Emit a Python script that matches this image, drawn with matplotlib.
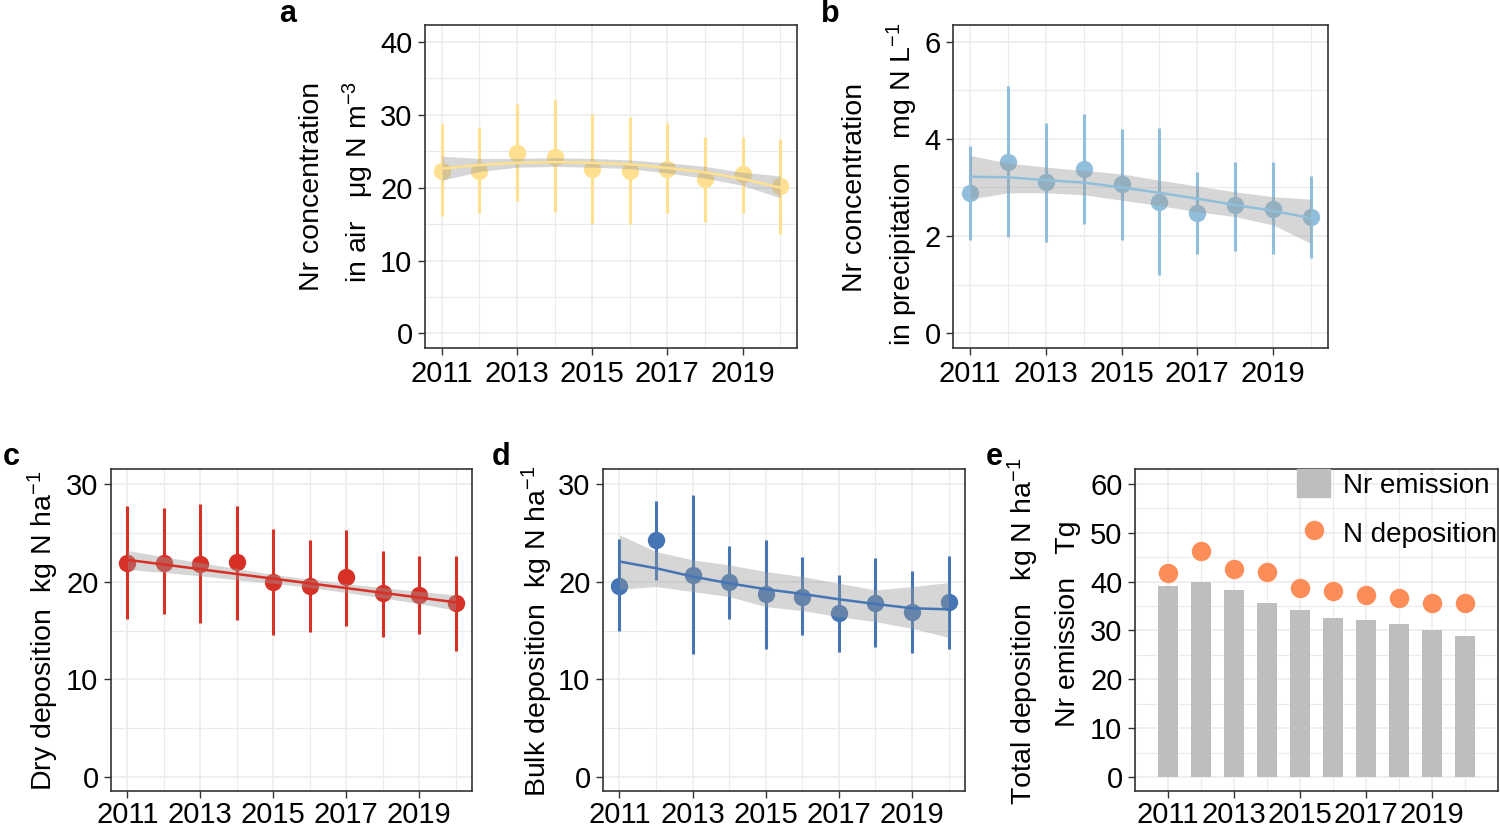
import matplotlib
matplotlib.use("Agg")
import matplotlib.pyplot as plt
from matplotlib.ticker import MultipleLocator
from matplotlib.patches import Patch
from matplotlib.lines import Line2D

plt.rcParams['font.family'] = ['Liberation Sans', 'DejaVu Sans']
plt.rcParams['mathtext.fontset'] = 'custom'
plt.rcParams['mathtext.rm'] = 'Liberation Sans'
plt.rcParams['mathtext.it'] = 'Liberation Sans:italic'
plt.rcParams['mathtext.bf'] = 'Liberation Sans:bold'

years = [2011, 2012, 2013, 2014, 2015, 2016, 2017, 2018, 2019, 2020]

# a: Nr concentration in air
air_mean = [22.3, 22.3, 24.8, 24.2, 22.5, 22.3, 22.6, 21.2, 21.9, 20.2]
air_hi = [28.7, 28.3, 31.4, 32.0, 30.1, 29.7, 28.9, 26.9, 26.9, 26.7]
air_lo = [16.1, 16.5, 18.1, 16.6, 15.0, 15.0, 16.5, 15.3, 16.5, 13.6]
air_fit = [22.6, 23.1, 23.4, 23.5, 23.4, 23.2, 22.7, 22.1, 21.2, 20.0]
air_fit_hi = [24.3, 24.0, 24.0, 24.1, 24.0, 23.8, 23.4, 22.9, 22.1, 21.6]
air_fit_lo = [21.0, 22.2, 22.8, 22.9, 22.8, 22.6, 22.0, 21.3, 20.3, 18.6]

# b: Nr concentration in precipitation
pre_mean = [2.89, 3.52, 3.12, 3.38, 3.07, 2.71, 2.47, 2.63, 2.56, 2.39]
pre_hi = [3.85, 5.08, 4.33, 4.51, 4.20, 4.23, 3.31, 3.52, 3.52, 3.24]
pre_lo = [1.93, 1.99, 1.87, 2.24, 1.91, 1.20, 1.63, 1.70, 1.63, 1.54]
pre_fit = [3.22, 3.21, 3.15, 3.10, 3.00, 2.89, 2.77, 2.64, 2.52, 2.37]
pre_fit_hi = [3.66, 3.50, 3.42, 3.35, 3.28, 3.15, 3.03, 2.91, 2.81, 2.76]
pre_fit_lo = [2.76, 2.89, 2.89, 2.85, 2.74, 2.63, 2.50, 2.40, 2.23, 1.85]

# c: dry deposition
dry_mean = [21.96, 21.96, 21.83, 22.03, 20.01, 19.57, 20.53, 18.82, 18.65, 17.79]
dry_hi = [27.78, 27.54, 27.95, 27.78, 25.38, 24.29, 25.25, 23.16, 22.68, 22.68]
dry_lo = [16.18, 16.66, 15.81, 16.08, 14.54, 14.81, 15.50, 14.37, 14.64, 12.93]
dry_fit = [22.24, 21.76, 21.28, 20.79, 20.31, 19.83, 19.35, 18.86, 18.38, 17.89]
dry_fit_hi = [23.20, 22.55, 21.95, 21.35, 20.75, 20.25, 19.80, 19.40, 19.00, 18.65]
dry_fit_lo = [21.25, 20.95, 20.60, 20.20, 19.85, 19.40, 18.90, 18.35, 17.75, 17.10]

# d: bulk deposition
bulk_mean = [19.57, 24.29, 20.70, 20.01, 18.75, 18.41, 16.76, 17.86, 16.93, 17.89]
bulk_hi = [24.39, 28.22, 28.91, 23.67, 24.22, 22.51, 20.70, 22.41, 21.11, 22.68]
bulk_lo = [14.95, 20.18, 12.56, 16.18, 13.10, 14.54, 12.83, 13.34, 12.73, 13.10]
bulk_fit = [22.07, 21.38, 20.53, 19.84, 19.23, 18.75, 18.20, 17.72, 17.28, 17.17]
bulk_fit_hi = [24.80, 23.09, 22.24, 21.72, 21.04, 20.53, 19.84, 19.16, 19.50, 19.91]
bulk_fit_lo = [19.23, 19.50, 18.99, 18.47, 17.45, 17.04, 16.42, 15.91, 15.22, 14.30]

# e: emission and total deposition
emission = [39.1, 40.0, 38.3, 35.7, 34.1, 32.6, 32.1, 31.3, 30.1, 28.9]
total_dep = [41.7, 46.2, 42.6, 42.0, 38.7, 38.0, 37.2, 36.6, 35.6, 35.7]

W, H = 1500, 827
fig = plt.figure(figsize=(15, 8.27), dpi=100)


def px_axes(x0, y0, x1, y1):
    return fig.add_axes([x0 / W, 1 - y1 / H, (x1 - x0) / W, (y1 - y0) / H])


def style(ax, major, minor, ylim, xlim, xpad=4):
    ax.set_xlim(*xlim)
    ax.set_ylim(*ylim)
    ax.xaxis.set_major_locator(MultipleLocator(2))
    ax.xaxis.set_minor_locator(MultipleLocator(1))
    ax.yaxis.set_major_locator(MultipleLocator(major))
    ax.yaxis.set_minor_locator(MultipleLocator(minor))
    ax.set_xticks([2011, 2013, 2015, 2017, 2019])
    ax.grid(which='major', color='#EBEBEB', lw=1.1, zorder=0)
    ax.grid(which='minor', color='#EBEBEB', lw=0.8, zorder=0)
    ax.set_axisbelow(True)
    ax.tick_params(which='major', direction='out', length=5, width=1,
                   color='#333333', labelsize=21, pad=4, labelcolor='black')
    ax.tick_params(axis='x', which='major', pad=xpad)
    ax.tick_params(which='minor', length=0)
    for s in ax.spines.values():
        s.set_color('#333333')
        s.set_linewidth(1.2)


def trend(ax, mean, lo, hi, fit, fit_lo, fit_hi, color, ms):
    ax.vlines(years, lo, hi, color=color, lw=2.2, zorder=2)
    ax.plot(years, mean, 'o', color=color, ms=ms, mec='none', zorder=3)
    ax.fill_between(years, fit_lo, fit_hi, color='#999999', alpha=0.4,
                    lw=0, zorder=4)
    ax.plot(years, fit, color=color, lw=1.8, zorder=5)


xl = (2010.55, 2020.45)

ax_a = px_axes(425, 25, 797, 348)
trend(ax_a, air_mean, air_lo, air_hi, air_fit, air_fit_lo, air_fit_hi, '#FEE090', 12.5)
style(ax_a, 10, 5, (-2.0, 42.3), xl)

ax_b = px_axes(953, 25, 1328, 348)
trend(ax_b, pre_mean, pre_lo, pre_hi, pre_fit, pre_fit_lo, pre_fit_hi, '#91BFDB', 12.5)
style(ax_b, 2, 1, (-0.3, 6.34), xl)

ax_c = px_axes(111, 469, 472, 791)
trend(ax_c, dry_mean, dry_lo, dry_hi, dry_fit, dry_fit_lo, dry_fit_hi, '#D73027', 12.5)
style(ax_c, 10, 5, (-1.43, 31.54), xl, xpad=2)

ax_d = px_axes(603, 469, 965, 791)
trend(ax_d, bulk_mean, bulk_lo, bulk_hi, bulk_fit, bulk_fit_lo, bulk_fit_hi, '#4575B4', 12.5)
style(ax_d, 10, 5, (-1.43, 31.54), xl, xpad=2)

ax_e = px_axes(1135, 469, 1498, 791)
ax_e.bar(years, emission, width=0.58, color='#BEBEBE', zorder=2)
ax_e.plot(years, total_dep, 'o', color='#FC8D59', ms=14, mec='none', zorder=3)
style(ax_e, 10, 5, (-2.87, 63.07), (2010.0, 2021.0), xpad=2)
handles = [Patch(color='#BEBEBE'),
           Line2D([], [], marker='o', ls='', color='#FC8D59', ms=14, mec='none')]
ax_e.legend(handles, ['Nr emission', 'N deposition'], loc='upper left',
            bbox_to_anchor=((1297 - 1135) / 363, 1.0), frameon=False,
            fontsize=20, borderpad=0.0, handlelength=1.2, handleheight=1.2,
            handletextpad=0.45, labelspacing=0.7, borderaxespad=0.0)


def ylab(x, y, s):
    fig.text(x / W, 1 - y / H, s, rotation=90, ha='center', va='center',
             fontsize=20.5)


ylab(312, 186, 'Nr concentration')
ylab(358, 182, 'in air   \u03bcg N m$^{-3}$')
ylab(855, 187, 'Nr concentration')
ylab(902, 184, 'in precipitation   mg N L$^{-1}$')
ylab(43, 631, 'Dry deposition  kg N ha$^{-1}$')
ylab(537, 631, 'Bulk deposition  kg N ha$^{-1}$')
ylab(1023, 631, 'Total deposition   kg N ha$^{-1}$')
ylab(1068, 624, 'Nr emission   Tg')

for lbl, x, y in [('a', 288, 14), ('b', 830, 14), ('c', 11, 457),
                  ('d', 501, 457), ('e', 994, 457)]:
    fig.text(x / W, 1 - y / H, lbl, ha='center', va='center',
             fontsize=22, fontweight='bold')

fig.savefig('out.png', dpi=100)
